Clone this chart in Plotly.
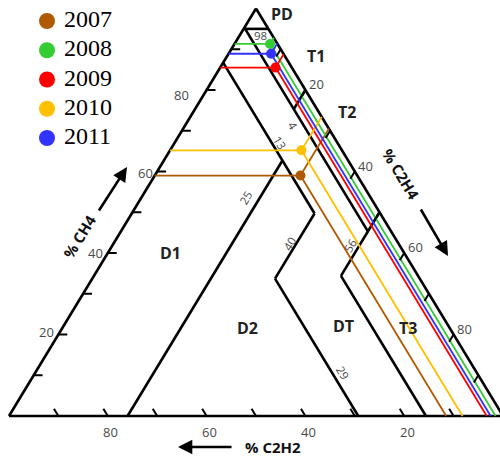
import math
import plotly.graph_objects as go

# ---------------- data (ternary %) ----------------
years = ["2007", "2008", "2009", "2010", "2011"]
ch4 = [59.0, 91.3, 85.5, 65.2, 88.9]
c2h4 = [29.5, 7.2, 11.2, 26.6, 8.6]
c2h2 = [11.5, 1.5, 3.3, 8.2, 2.5]
colors = ["#B05A00", "#33CC33", "#FF0000", "#FFC000", "#3333FF"]

# zone boundary values as drawn
pd_limit = 95.0      # labelled 98
t_c2h2 = 4.7         # labelled 4
t1_c2h4 = 20.0
d1_c2h2 = 13.3       # labelled 13
d1_c2h4 = 24.0       # labelled 25
dt_c2h4 = 37.0       # labelled 40
d2_c2h2 = 29.3       # labelled 29
t3_c2h4 = 50.0       # labelled 56
t3_c2h2 = 15.6

axis_labels = [20, 40, 60, 80]
tick_values = [10, 20, 30, 40, 50, 60, 70, 80, 90]

# ---------------- geometry ----------------
TOP = (256.0, 8.5)
LEFT = (9.0, 416.0)
RIGHT = (503.0, 416.0)


def tern(a, b, c):
    """a = CH4, b = C2H2, c = C2H4 (percent) -> plot coords"""
    s = a + b + c
    a, b, c = a / s, b / s, c / s
    return (a * TOP[0] + b * LEFT[0] + c * RIGHT[0],
            a * TOP[1] + b * LEFT[1] + c * RIGHT[1])


def seg_xy(segs):
    xs, ys = [], []
    for p, q in segs:
        x0, y0 = tern(*p)
        x1, y1 = tern(*q)
        xs += [x0, x1, None]
        ys += [y0, y1, None]
    return xs, ys


fig = go.Figure()

# triangle outline
outline = [((100, 0, 0), (0, 100, 0)), ((0, 100, 0), (0, 0, 100)), ((0, 0, 100), (100, 0, 0))]
# zone boundaries (CH4, C2H2, C2H4)
bounds = [
    ((pd_limit, 100 - pd_limit, 0), (pd_limit, 0, 100 - pd_limit)),
    ((pd_limit, t_c2h2, 100 - pd_limit - t_c2h2), (100 - t_c2h2 - t3_c2h4, t_c2h2, t3_c2h4)),
    ((100 - t1_c2h4, 0, t1_c2h4), (100 - t1_c2h4 - t_c2h2, t_c2h2, t1_c2h4)),
    ((100 - d1_c2h2, d1_c2h2, 0), (100 - d1_c2h2 - dt_c2h4, d1_c2h2, dt_c2h4)),
    ((100 - d1_c2h2 - d1_c2h4, d1_c2h2, d1_c2h4), (0, 100 - d1_c2h4, d1_c2h4)),
    ((100 - d1_c2h2 - dt_c2h4, d1_c2h2, dt_c2h4), (100 - d2_c2h2 - dt_c2h4, d2_c2h2, dt_c2h4)),
    ((100 - d2_c2h2 - dt_c2h4, d2_c2h2, dt_c2h4), (0, d2_c2h2, 100 - d2_c2h2)),
    ((100 - t3_c2h4, 0, t3_c2h4), (100 - t3_c2h4 - t3_c2h2, t3_c2h2, t3_c2h4)),
    ((100 - t3_c2h4 - t3_c2h2, t3_c2h2, t3_c2h4), (0, t3_c2h2, 100 - t3_c2h2)),
]
xs, ys = seg_xy(outline + bounds)
fig.add_trace(go.Scatter(x=xs, y=ys, mode="lines", line=dict(color="black", width=2.6),
                         hoverinfo="skip", showlegend=False))

# sample projection lines
for yr, a, b, c, col in zip(years, ch4, c2h2, c2h4, colors):
    segs = [((a, 100 - a, 0), (a, b, c)),          # CH4 constant -> left edge
            ((a, b, c), (0, b, 100 - b)),          # C2H2 constant -> base
            ((a, b, c), (a + b, 0, c))]            # C2H4 constant -> right edge
    lx, ly = seg_xy(segs)
    fig.add_trace(go.Scatter(x=lx, y=ly, mode="lines", line=dict(color=col, width=1.8),
                             hoverinfo="skip", showlegend=False))

# axis ticks
tl = 1.8
ticks = []
for v in tick_values:
    ticks.append(((v, 100 - v, 0), (v, 100 - v - tl, tl)))          # left  (CH4)
    ticks.append(((100 - v, 0, v), (100 - v - tl, tl, v)))          # right (C2H4)
    ticks.append(((0, v, 100 - v), (tl, v, 100 - v - tl)))          # base  (C2H2)
tx, ty = seg_xy(ticks)
fig.add_trace(go.Scatter(x=tx, y=ty, mode="lines", line=dict(color="black", width=2),
                         hoverinfo="skip", showlegend=False))

# sample points
px, py = zip(*[tern(a, b, c) for a, b, c in zip(ch4, c2h2, c2h4)])
fig.add_trace(go.Scatter(x=list(px), y=list(py), mode="markers", text=years,
                         marker=dict(color=colors, size=10), showlegend=False,
                         hovertemplate="%{text}<extra></extra>"))

# legend (drawn as a marker column)
leg_x = [47] * len(years)
leg_y = [21 + 29.25 * i for i in range(len(years))]
fig.add_trace(go.Scatter(x=leg_x, y=leg_y, mode="markers+text", text=[" " + y for y in years],
                         textposition="middle right",
                         textfont=dict(family="Liberation Serif", size=24, color="black"),
                         marker=dict(color=colors, size=16), hoverinfo="skip", showlegend=False))

ann = []
gray = "#4a4a4a"
ang = math.degrees(math.atan2(LEFT[1] - TOP[1], TOP[0] - LEFT[0]))

# tick labels
left_off = {20: (-12, -3), 40: (-12, 0), 60: (-12, 1), 80: (-25, 5)}
for v in axis_labels:
    x, y = tern(v, 100 - v, 0)
    dx, dy = left_off[v]
    ann.append(dict(x=x + dx, y=y + dy, text=str(v), showarrow=False, font=dict(size=13, color=gray, family="Open Sans")))
    x, y = tern(100 - v, 0, v)
    ann.append(dict(x=x + 11, y=y - 6, text=str(v), showarrow=False, font=dict(size=13, color=gray, family="Open Sans")))
    x, y = tern(0, v, 100 - v)
    ann.append(dict(x=x + 3, y=y + 16, text=str(v), showarrow=False, font=dict(size=13, color=gray, family="Open Sans")))

# zone names
zones = [("PD", 282, 14), ("T1", 316, 56), ("T2", 347, 112), ("D1", 170, 253),
         ("D2", 247, 328), ("DT", 343, 326), ("T3", 408, 328)]
for name, x, y in zones:
    ann.append(dict(x=x, y=y, text="<b>%s</b>" % name, showarrow=False,
                    font=dict(size=16, color="#222", family="Open Sans")))

# boundary value labels
blabels = [("98", 260, 35, 0), ("4", 293, 125, ang), ("13", 280, 142, ang),
           ("25", 245, 198, -ang), ("40", 289, 244, -ang), ("56", 350, 245, -ang),
           ("29", 343, 372, ang)]
for t, x, y, a in blabels:
    ann.append(dict(x=x, y=y, text=t, textangle=a, showarrow=False,
                    font=dict(size=11.5, color=gray, family="Open Sans")))

# axis titles and arrows
ann.append(dict(x=79, y=237, text="<b>% CH4</b>", textangle=-ang, showarrow=False,
                font=dict(size=15, color="#111", family="Open Sans")))
ann.append(dict(x=401, y=174, text="<b>% C2H4</b>", textangle=ang, showarrow=False,
                font=dict(size=15, color="#111", family="Open Sans")))
ann.append(dict(x=273, y=447, text="<b>% C2H2</b>", showarrow=False,
                font=dict(size=15, color="#111", family="Open Sans")))
for (hx, hy, tx_, ty_) in [(127, 167, 98, 212), (448, 256, 420, 208), (178, 447, 233, 447)]:
    ann.append(dict(x=hx, y=hy, ax=tx_, ay=ty_, axref="x", ayref="y", text="", showarrow=True,
                    arrowhead=2, arrowsize=1.1, arrowwidth=2.6, arrowcolor="black"))

for a in ann:
    a.setdefault("xref", "x")
    a.setdefault("yref", "y")

fig.update_layout(
    width=500, height=457, margin=dict(l=0, r=0, t=0, b=0),
    paper_bgcolor="white", plot_bgcolor="white",
    xaxis=dict(range=[0, 500], visible=False, fixedrange=True),
    yaxis=dict(range=[457, 0], visible=False, fixedrange=True),
    annotations=ann, showlegend=False,
)

fig.write_html("out.html", config={"displayModeBar": False},
               post_script="document.body.style.margin='0';document.body.style.overflow='hidden';")
